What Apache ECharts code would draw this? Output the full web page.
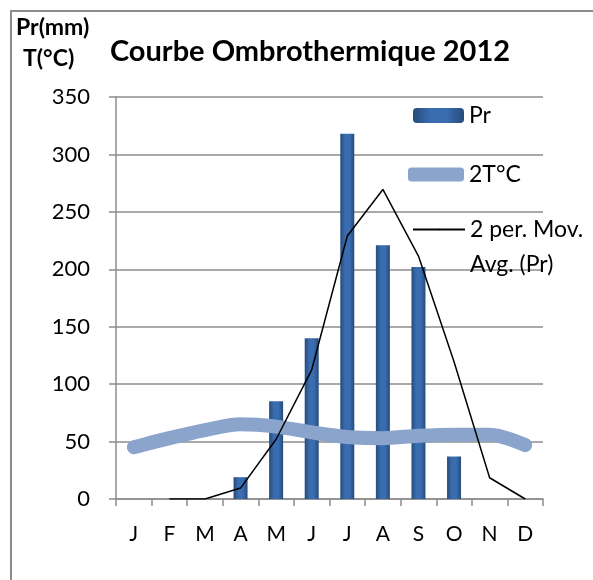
<!DOCTYPE html>
<html>
<head>
<meta charset="utf-8">
<script src="https://cdn.jsdelivr.net/npm/echarts@6/dist/echarts.min.js"></script>
<style>html,body{margin:0;padding:0;background:#fff;}#c{width:593px;height:580px;}</style>
</head>
<body>
<div id="c"></div>
<script>
var months = ['J','F','M','A','M','J','J','A','S','O','N','D'];
var pr = [0, 0, 0, 19, 85, 140, 318, 221, 202, 37, 0, 0];
var temp2 = [45, 53, 60, 65, 63, 58, 54, 53, 55, 56, 56, 47];
var movAvg = ['-', 0, 0, 9.5, 52, 112.5, 229, 269.5, 211.5, 119.5, 18.5, 0];
var yTicks = [0, 50, 100, 150, 200, 250, 300, 350];

var chart = echarts.init(document.getElementById('c'), null, {renderer: 'canvas'});
var font = 'Lato, "Open Sans", sans-serif';
var grey = '#8c8c8c';
chart.setOption({
  animation: false,
  backgroundColor: '#fff',
  title: {
    text: 'Courbe Ombrothermique 2012',
    left: 305, top: 32, textAlign: 'center',
    textStyle: {fontFamily: font, fontWeight: 'bold', fontSize: 29, color: '#000'}
  },
  graphic: [
    {type: 'rect', shape: {x: 11, y: 11, width: 700, height: 700}, style: {fill: 'none', stroke: grey, lineWidth: 2}, z: -1},
    {type: 'text', left: 16, top: 16, style: {text: 'Pr(mm)', fontFamily: font, fontWeight: 'bold', fontSize: 23, fill: '#000'}},
    {type: 'text', left: 23, top: 47, style: {text: 'T(°C)', fontFamily: font, fontWeight: 'bold', fontSize: 23, fill: '#000'}}
  ],
  legend: [
    {data: [{name: 'Pr'}], left: 408, top: 99, itemWidth: 51, itemHeight: 15,
     textStyle: {fontFamily: font, fontSize: 23, color: '#000'}},
    {data: [{name: '2T°C', icon: 'roundRect'}], left: 403, top: 158, itemWidth: 56, itemHeight: 14,
     textStyle: {fontFamily: font, fontSize: 23, color: '#000'}},
    {data: [{name: '2 per. Mov. Avg. (Pr)'}], left: 407, top: 172, itemWidth: 52, itemHeight: 2,
     formatter: function(){ return ' \n2 per. Mov.\nAvg. (Pr)'; },
     textStyle: {fontFamily: font, fontSize: 23, color: '#000', lineHeight: 35}}
  ],
  grid: {left: 116, right: 50, top: 97, bottom: 81, containLabel: false},
  xAxis: {
    type: 'category', data: months, boundaryGap: true,
    axisLine: {lineStyle: {color: grey, width: 1.5}},
    axisTick: {show: true, length: 7, lineStyle: {color: grey, width: 1.5}},
    axisLabel: {fontFamily: font, fontSize: 21, color: '#000', margin: 25}
  },
  yAxis: {
    type: 'value', min: 0, max: 350, interval: 50,
    axisLine: {show: true, lineStyle: {color: grey, width: 1.5}},
    axisTick: {show: true, length: 7, lineStyle: {color: grey, width: 1.5}},
    splitLine: {lineStyle: {color: grey, width: 1.5}},
    axisLabel: {fontFamily: font, fontSize: 22, color: '#000', margin: 26,
      formatter: function(v){ return yTicks.indexOf(v) >= 0 ? String(v) : ''; }}
  },
  series: [
    {name: 'Pr', type: 'bar', data: pr, barWidth: 14, z: 2,
     itemStyle: {color: new echarts.graphic.LinearGradient(0,0,1,0,[
       {offset: 0, color: '#274b7c'}, {offset: 0.35, color: '#3a6db0'}, {offset: 0.65, color: '#3a6db0'}, {offset: 1, color: '#274b7c'}])}},
    {name: '2T°C', type: 'line', data: temp2, smooth: 0.3, showSymbol: false, symbol: 'none', z: 3,
     lineStyle: {color: '#8ba4cb', width: 14, cap: 'round', join: 'round'}, itemStyle: {color: '#8ba4cb'}},
    {name: '2 per. Mov. Avg. (Pr)', type: 'line', data: movAvg, showSymbol: false, symbol: 'none', z: 4,
     lineStyle: {color: '#000', width: 1.5}, itemStyle: {color: '#000'}}
  ]
});
</script>
</body>
</html>
